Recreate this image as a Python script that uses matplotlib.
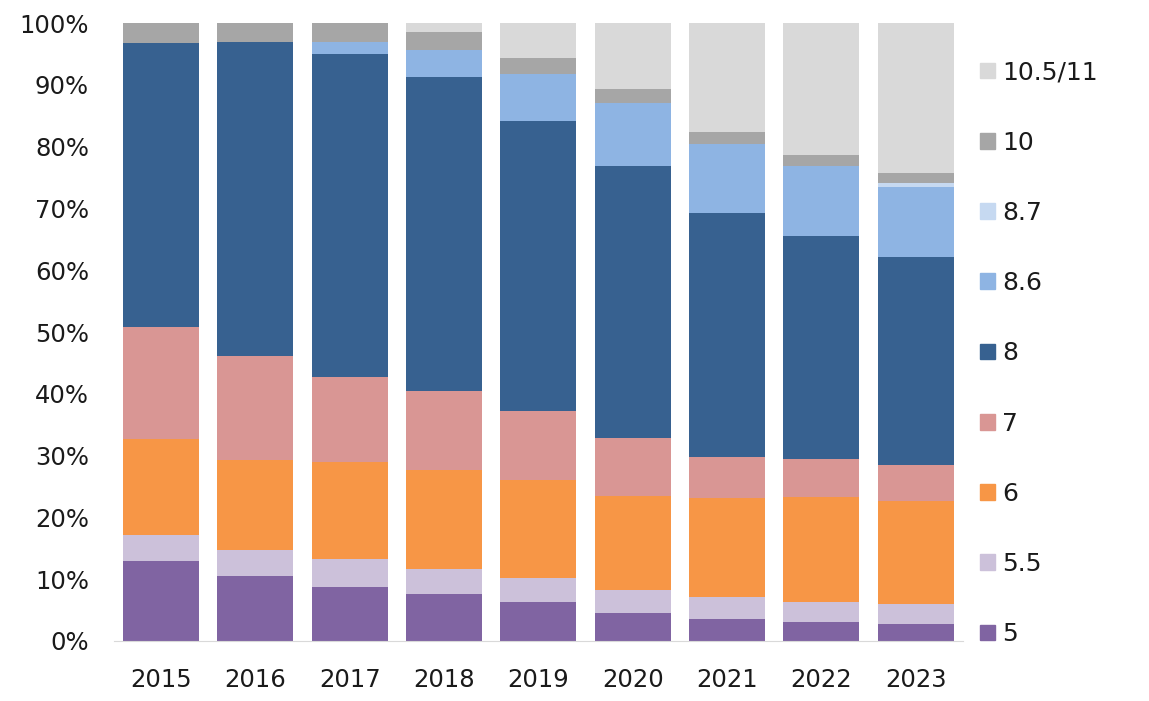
import numpy as np
import matplotlib.pyplot as plt
from matplotlib.patches import Patch

# データ（シェア %）
years = ["2015", "2016", "2017", "2018", "2019", "2020", "2021", "2022", "2023"]
labels = ["5", "5.5", "6", "7", "8", "8.6", "8.7", "10", "10.5/11"]
v5 = [12.9, 10.6, 8.8, 7.6, 6.3, 4.5, 3.6, 3.1, 2.8]
v55 = [4.3, 4.2, 4.5, 4.1, 3.9, 3.8, 3.5, 3.2, 3.2]
v6 = [15.5, 14.5, 15.7, 16.0, 15.8, 15.1, 16.1, 17.0, 16.6]
v7 = [18.1, 16.9, 13.8, 12.7, 11.2, 9.5, 6.5, 6.2, 5.9]
v8 = [46.0, 50.7, 52.2, 50.9, 47.0, 44.0, 39.6, 36.1, 33.7]
v86 = [0.0, 0.0, 1.9, 4.3, 7.6, 10.1, 11.2, 11.3, 11.2]
v87 = [0.0, 0.0, 0.0, 0.0, 0.0, 0.0, 0.0, 0.0, 0.7]
v10 = [3.2, 3.1, 3.1, 2.9, 2.6, 2.4, 1.9, 1.8, 1.7]
v105 = [0.0, 0.0, 0.0, 1.5, 5.6, 10.6, 17.6, 21.3, 24.2]

series = [v5, v55, v6, v7, v8, v86, v87, v10, v105]
colors = ["#8064A2", "#CCC1DA", "#F79646", "#D99694", "#376190",
          "#8EB4E3", "#C6D9F1", "#A6A6A6", "#D9D9D9"]

plt.rcParams['font.family'] = ['DejaVu Sans']

fig = plt.figure(figsize=(11.49, 7.01), dpi=100)
ax = fig.add_axes([0.0992, 0.0856, 0.7388, 0.8814])

x = np.arange(len(years))
bottom = np.zeros(len(years))
for vals, c in zip(series, colors):
    vals = np.array(vals)
    ax.bar(x, vals, 0.806, bottom=bottom, color=c)
    bottom += vals

ax.set_xlim(-0.5, len(years) - 0.5)
ax.set_ylim(0, 100)
ax.set_yticks(np.arange(0, 101, 10))
ax.set_yticklabels([f"{t}%" for t in range(0, 101, 10)])
ax.set_xticks(x)
ax.set_xticklabels(years)
ax.tick_params(axis='both', length=0, labelsize=17.5, colors='#1a1a1a')
ax.tick_params(axis='x', pad=19.5)
ax.tick_params(axis='y', pad=18)
for s in ['top', 'right', 'left']:
    ax.spines[s].set_visible(False)
ax.spines['bottom'].set_color('#D9D9D9')

handles = [Patch(color=c) for c in colors][::-1]
fig.legend(handles, labels[::-1], loc='center left', bbox_to_anchor=(0.833, 0.496),
           frameon=False, fontsize=18, handlelength=0.6, handleheight=0.6,
           handletextpad=0.3, labelspacing=1.85, labelcolor='#1a1a1a')

plt.savefig("out.png")
